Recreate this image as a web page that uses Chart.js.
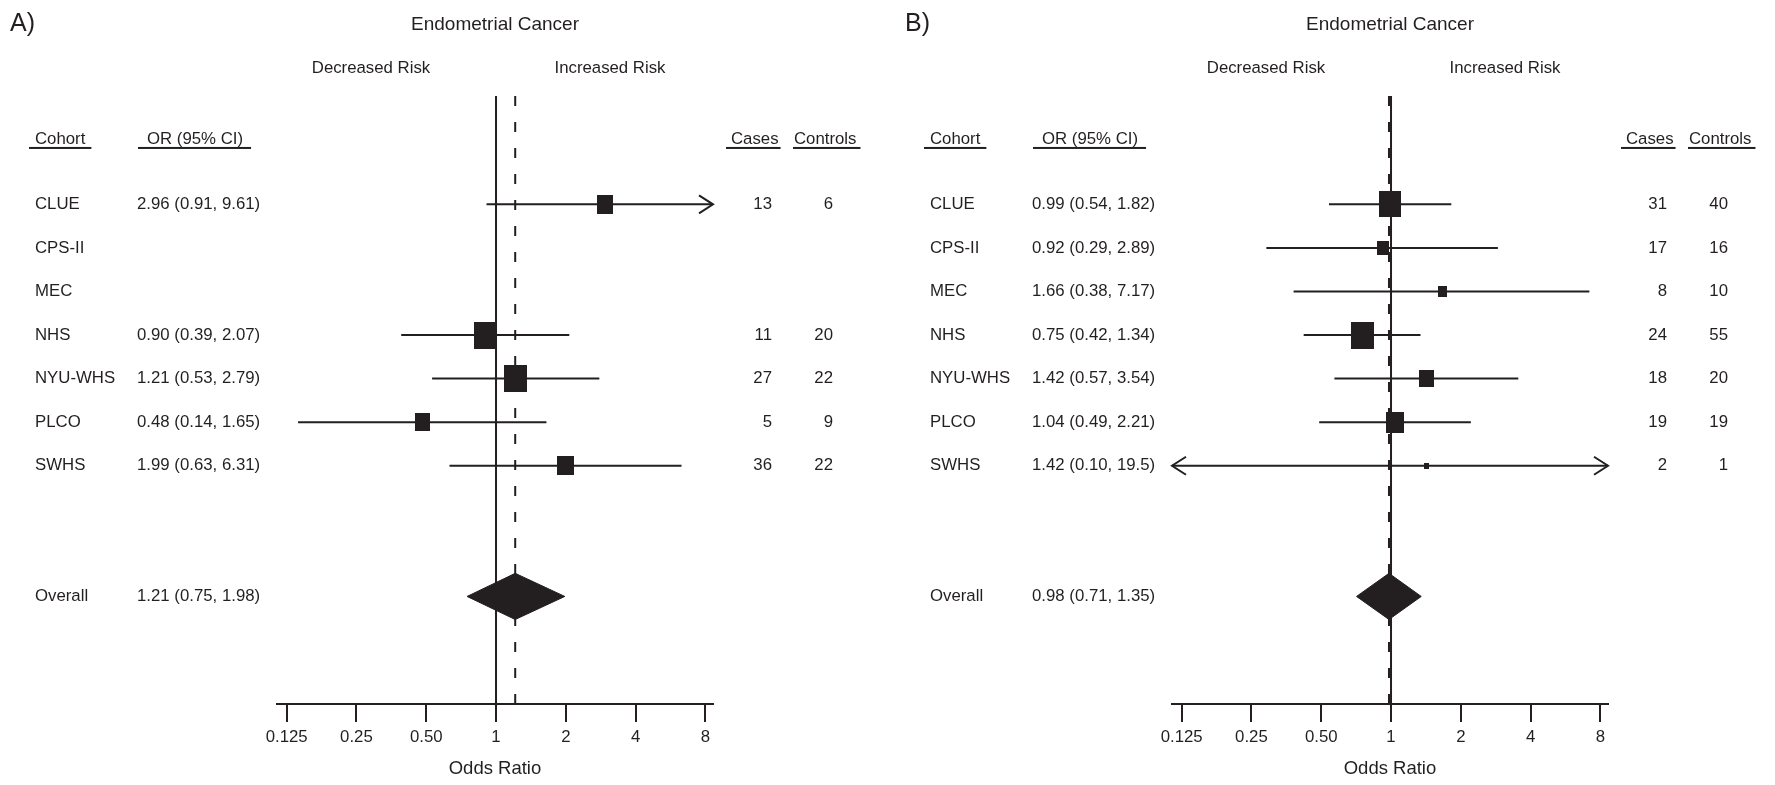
<!DOCTYPE html>
<html>
<head>
<meta charset="utf-8">
<script src="https://cdn.jsdelivr.net/npm/chart.js@4.4.1/dist/chart.umd.min.js"></script>
<style>
  html, body { margin: 0; padding: 0; background: #fff; overflow: hidden; }
  #wrap { position: relative; width: 1775px; height: 785px; }
  canvas { position: absolute; top: 0; }
</style>
</head>
<body>
<div id="wrap">
  <canvas id="chartA" width="895" height="785" style="left:0"></canvas>
  <canvas id="chartB" width="880" height="785" style="left:895px"></canvas>
</div>
<script>
const FONT = "'Liberation Sans', Arial, Helvetica, sans-serif";
const INK = '#231f20';

// data
const cohorts = ['CLUE', 'CPS-II', 'MEC', 'NHS', 'NYU-WHS', 'PLCO', 'SWHS'];

const orA = [2.96, null, null, 0.90, 1.21, 0.48, 1.99];
const lowA = [0.91, null, null, 0.39, 0.53, 0.14, 0.63];
const highA = [9.61, null, null, 2.07, 2.79, 1.65, 6.31];
const casesA = [13, null, null, 11, 27, 5, 36];
const controlsA = [6, null, null, 20, 22, 9, 22];
const overallA = [1.21, 0.75, 1.98];   // estimate, lower, upper

const orB = [0.99, 0.92, 1.66, 0.75, 1.42, 1.04, 1.42];
const lowB = [0.54, 0.29, 0.38, 0.42, 0.57, 0.49, 0.10];
const highB = [1.82, 2.89, 7.17, 1.34, 3.54, 2.21, 19.5];
const casesB = [31, 17, 8, 24, 18, 19, 2];
const controlsB = [40, 16, 10, 55, 20, 19, 1];
const overallB = [0.98, 0.71, 1.35];

const tickValues = [0.125, 0.25, 0.5, 1, 2, 4, 8];
const tickLabels = ['0.125', '0.25', '0.50', '1', '2', '4', '8'];

// layout of the rows (in row units on the y scale)
const HEADER_ROW = -0.5;
const OVERALL_ROW = 10;
const Y_TOP = -1.486, Y_BOTTOM = 12.469;
const X_MIN = 0.1136, X_MAX = 8.627;
const DIAMOND_HALF = 0.53;
const BOX_MAX = 23;

const headers = [
    { text: 'Cohort', x: 35, pad: [6, 6] },
    { text: 'OR (95% CI)', x: 147, pad: [9, 8] },
    { text: 'Cases', x: 731, pad: [5, 2] },
    { text: 'Controls', x: 794, pad: [1, 4] }
];

function fmt(v) {
    return v >= 10 ? v.toFixed(1) : v.toFixed(2);
}

// box side follows sqrt of the inverse-variance weight taken from the CI
function boxWidths(low, high) {
    let w = low.map(function(l, i) {
        if (l == null) return null;
        let se = (Math.log(high[i]) - Math.log(l)) / (2 * 1.96);
        return 1 / (se * se);
    });
    let wMax = Math.max(...w.filter(v => v != null));
    return w.map(v => v == null ? null : BOX_MAX * Math.sqrt(v / wMax));
}

function boxImage(w) {
    let c = document.createElement('canvas');
    c.width = Math.max(2, Math.round(w));
    c.height = Math.max(2, Math.round(w * 1.17));
    let g = c.getContext('2d');
    g.fillStyle = INK;
    g.fillRect(0, 0, c.width, c.height);
    return c;
}

function arrow(ctx, tipX, y, dir) {
    ctx.beginPath();
    ctx.moveTo(tipX + dir * 14, y - 9);
    ctx.lineTo(tipX, y);
    ctx.lineTo(tipX + dir * 14, y + 9);
    ctx.stroke();
}

function forestPlugin(p) {
    return {
        id: 'forest' + p.tag,
        afterDatasetsDraw(chart) {
            const {ctx, chartArea, scales: {x, y}} = chart;
            ctx.save();
            ctx.strokeStyle = INK;
            ctx.lineWidth = 2;
            p.or.forEach(function(v, i) {
                if (v == null) return;
                let py = y.getPixelForValue(i + 1);
                if (p.high[i] > x.max) arrow(ctx, chartArea.right, py, -1);
                if (p.low[i] < x.min) arrow(ctx, chartArea.left, py, 1);
            });
            ctx.restore();
        },
        afterDraw(chart) {
            const {ctx, chartArea, scales: {y}} = chart;
            ctx.save();
            ctx.fillStyle = INK;
            ctx.textBaseline = 'middle';

            ctx.font = '25px ' + FONT;
            ctx.textAlign = 'left';
            ctx.fillText(p.tag + ')', 10, 24);

            ctx.font = '19px ' + FONT;
            ctx.textAlign = 'center';
            ctx.fillText('Endometrial Cancer', (chartArea.left + chartArea.right) / 2, 25);

            ctx.font = '16.8px ' + FONT;
            ctx.fillText('Decreased Risk', 371, 68);
            ctx.fillText('Increased Risk', 610, 68);

            let hy = y.getPixelForValue(HEADER_ROW);
            ctx.textAlign = 'left';
            headers.forEach(function(h) {
                ctx.fillText(h.text, h.x, hy);
                let w = ctx.measureText(h.text).width;
                ctx.fillRect(h.x - h.pad[0], hy + 8, w + h.pad[0] + h.pad[1], 2);
            });

            cohorts.forEach(function(c, i) {
                let py = y.getPixelForValue(i + 1);
                ctx.textAlign = 'left';
                ctx.fillText(c, 35, py);
                if (p.or[i] == null) return;
                ctx.fillText(fmt(p.or[i]) + ' (' + fmt(p.low[i]) + ', ' + fmt(p.high[i]) + ')', 137, py);
                ctx.textAlign = 'right';
                ctx.fillText(String(p.cases[i]), 772, py);
                ctx.fillText(String(p.controls[i]), 833, py);
            });

            let oy = y.getPixelForValue(OVERALL_ROW);
            ctx.textAlign = 'left';
            ctx.fillText('Overall', 35, oy);
            ctx.fillText(fmt(p.overall[0]) + ' (' + fmt(p.overall[1]) + ', ' + fmt(p.overall[2]) + ')', 137, oy);
            ctx.restore();
        }
    };
}

function buildPanel(canvasId, p) {
    const canvas = document.getElementById(canvasId);
    const sizes = boxWidths(p.low, p.high);

    let boxPts = [];
    let boxImgs = [];
    let ciSets = [];
    p.or.forEach(function(v, i) {
        if (v == null) return;
        boxPts.push({x: v, y: i + 1});
        boxImgs.push(boxImage(sizes[i]));
        ciSets.push({
            type: 'line',
            data: [{x: p.low[i], y: i + 1}, {x: p.high[i], y: i + 1}],
            borderColor: INK,
            borderWidth: 2,
            pointRadius: 0,
            order: 1
        });
    });

    const est = p.overall[0], lo = p.overall[1], hi = p.overall[2];

    let datasets = [
        {
            type: 'scatter',
            data: boxPts,
            pointStyle: boxImgs,
            pointRadius: 6,
            backgroundColor: INK,
            order: 0
        },
        {
            type: 'line',
            data: [
                {x: lo, y: OVERALL_ROW},
                {x: est, y: OVERALL_ROW - DIAMOND_HALF},
                {x: hi, y: OVERALL_ROW},
                {x: est, y: OVERALL_ROW + DIAMOND_HALF},
                {x: lo, y: OVERALL_ROW}
            ],
            fill: 'shape',
            backgroundColor: INK,
            borderColor: INK,
            borderWidth: 1,
            pointRadius: 0,
            order: 0
        },
        ...ciSets,
        {
            type: 'line',
            data: [{x: 1, y: Y_TOP}, {x: 1, y: Y_BOTTOM}],
            borderColor: INK,
            borderWidth: 2,
            pointRadius: 0,
            order: 2
        },
        {
            type: 'line',
            data: [{x: est, y: Y_TOP}, {x: est, y: Y_BOTTOM}],
            borderColor: INK,
            borderWidth: 2,
            borderDash: [10, 16],
            pointRadius: 0,
            order: 2
        }
    ];

    return new Chart(canvas, {
        type: 'scatter',
        data: { datasets: datasets },
        options: {
            responsive: false,
            animation: false,
            events: [],
            layout: {
                padding: { left: 277, right: canvas.width - 713, top: 96, bottom: 0 }
            },
            plugins: {
                legend: { display: false },
                tooltip: { enabled: false }
            },
            scales: {
                x: {
                    type: 'logarithmic',
                    min: X_MIN,
                    max: X_MAX,
                    bounds: 'data',
                    afterBuildTicks: function(scale) {
                        scale.ticks = tickValues.map(v => ({value: v}));
                    },
                    afterFit: function(scale) {
                        scale.height = 81;
                    },
                    ticks: {
                        autoSkip: false,
                        maxRotation: 0,
                        minRotation: 0,
                        padding: 5,
                        color: INK,
                        font: { family: FONT, size: 16.8 },
                        callback: function(value, index) {
                            return tickLabels[index];
                        }
                    },
                    grid: {
                        display: true,
                        drawOnChartArea: false,
                        drawTicks: true,
                        tickLength: 18,
                        color: INK,
                        lineWidth: 2
                    },
                    border: { display: true, color: INK, width: 2 },
                    title: {
                        display: true,
                        text: 'Odds Ratio',
                        color: INK,
                        font: { family: FONT, size: 18.5 },
                        padding: { top: 0, bottom: 5 }
                    }
                },
                y: {
                    type: 'linear',
                    display: false,
                    reverse: true,
                    min: Y_TOP,
                    max: Y_BOTTOM
                }
            }
        },
        plugins: [forestPlugin(p)]
    });
}

buildPanel('chartA', {
    tag: 'A', or: orA, low: lowA, high: highA,
    cases: casesA, controls: controlsA, overall: overallA
});
buildPanel('chartB', {
    tag: 'B', or: orB, low: lowB, high: highB,
    cases: casesB, controls: controlsB, overall: overallB
});
</script>
</body>
</html>
